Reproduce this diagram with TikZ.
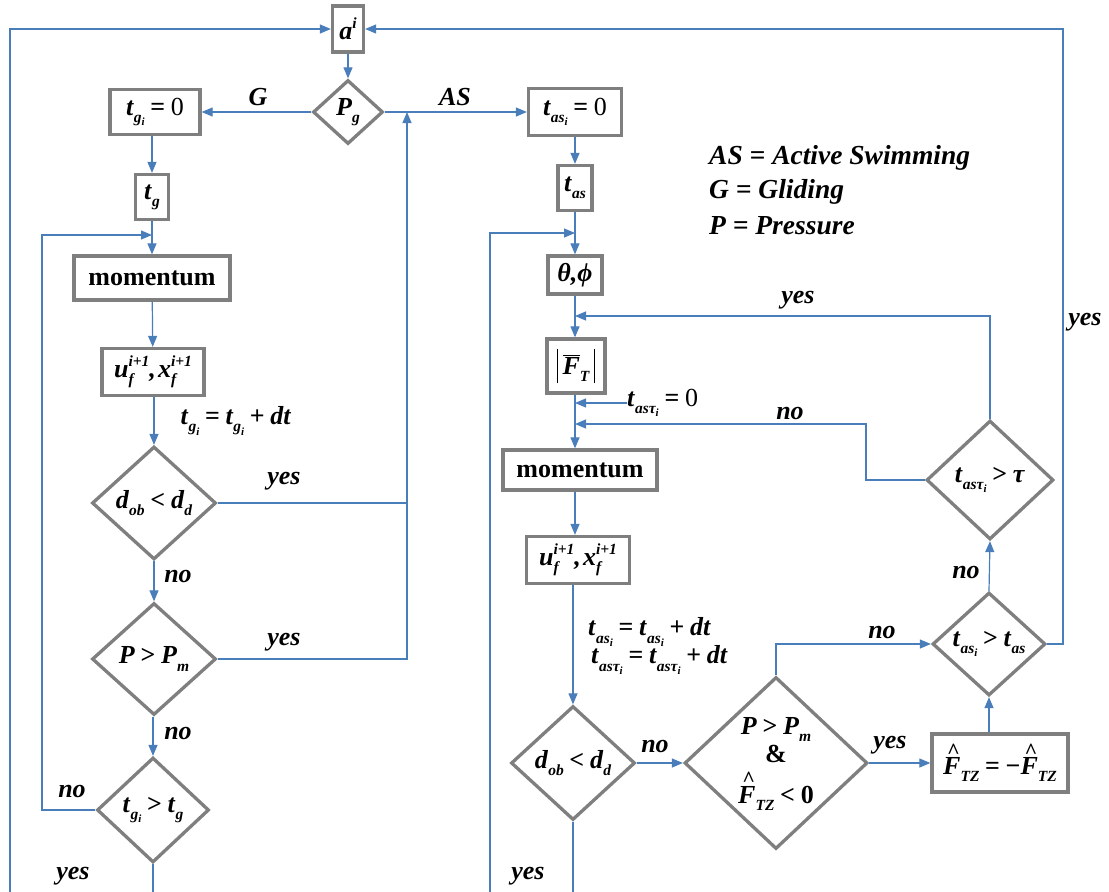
\documentclass[tikz,border=0pt]{standalone}
\usepackage{fontspec}
\setmainfont{Liberation Serif}
\usetikzlibrary{shapes.geometric,arrows.meta}
\definecolor{cbl}{HTML}{4A7EBB}
\definecolor{cgr}{HTML}{7F7F7F}
\newcommand\bi[1]{\textbf{\textit{#1}}}
\newcommand\ssz{\fontsize{15.5}{15.5}\selectfont\bfseries\itshape}
\newcommand\sssz{\fontsize{11}{11}\selectfont\bfseries\itshape}
\newcommand\sbs[1]{\raisebox{-0.6ex}{\ssz #1}}
\newcommand\sbsb[1]{\raisebox{-0.45ex}{\sssz #1}}
\newcommand\sps[1]{\raisebox{0.9ex}{\ssz #1}}
\newcommand\supsub[2]{\rlap{\raisebox{0.9ex}{\ssz #1}}\rlap{\raisebox{-0.6ex}{\ssz #2}}\hphantom{\ssz #1}}
\newcommand\Fhat{\bi{F}\llap{\raisebox{0.62em}{\fontsize{22}{22}\selectfont\bfseries\textasciicircum}\hspace{0.02em}}}
\newcommand\eqs{\textbf{\hspace{0.22em}=\hspace{0.22em}}}
\newcommand\rel[1]{\textbf{\hspace{0.22em}#1\hspace{0.22em}}}
\tikzset{
  box/.style={draw=cgr,line width=3.3pt,fill=white,inner sep=0pt,rectangle,font=\fontsize{26}{28}\selectfont},
  dia/.style={draw=cgr,line width=3.3pt,fill=white,inner sep=0pt,diamond,font=\fontsize{26}{28}\selectfont},
  lbl/.style={inner sep=0pt,font=\fontsize{26}{28}\selectfont\bfseries\itshape},
  eqn/.style={inner sep=0pt,font=\fontsize{26}{28}\selectfont},
  leg/.style={inner sep=0pt,anchor=west,font=\fontsize{27.5}{30}\selectfont\bfseries\itshape},
  con/.style={draw=cbl,line width=1.2pt},
  arr/.style={con,-{Triangle[length=11pt,width=9pt]}}
}
\begin{document}
\begin{tikzpicture}[x=1pt,y=-1pt]
\useasboundingbox (0,0) rectangle (1109,892);
% top
\node[box,minimum width=31,minimum height=46] (ai) at (348,29) {\makebox[0pt]{\bi{a}\sps{i}}};
\node[dia,minimum width=70,minimum height=64] (pg) at (348,112) {\makebox[0pt]{\bi{P}\sbs{g}}};
% left column
\node[box,minimum width=90,minimum height=45] (tgi0) at (155,112) {\makebox[0pt]{\bi{t}\sbs{g\sbsb{i}}\eqs 0}};
\node[box,minimum width=33,minimum height=45] (tg) at (152,197) {\makebox[0pt]{\bi{t}\sbs{g}}};
\node[box,minimum width=156,minimum height=44] (mom1) at (152,278) {\makebox[0pt]{\textbf{momentum}}};
\node[box,minimum width=102,minimum height=47] (uf1) at (153,372) {\makebox[0pt]{\bi{u}\supsub{i+1}{f}\bi{,\hspace{0.08em}x}\supsub{i+1}{f}}};
\node[dia,minimum width=124,minimum height=113] (d1) at (154,503) {\makebox[0pt]{\bi{d}\sbs{ob}\rel{<}\bi{d}\sbs{d}}};
\node[dia,minimum width=124,minimum height=112] (d2) at (154,659) {\makebox[0pt]{\bi{P}\rel{>}\bi{P}\sbs{m}}};
\node[dia,minimum width=112,minimum height=105] (d3) at (153,810) {\makebox[0pt]{\bi{t}\sbs{g\sbsb{i}}\rel{>}\bi{t}\sbs{g}}};
% right column
\node[box,minimum width=93,minimum height=47] (tasi0) at (575,112) {\makebox[0pt]{\bi{t}\sbs{as\sbsb{i}}\eqs 0}};
\node[box,minimum width=34,minimum height=45] (tas) at (575,188) {\makebox[0pt]{\bi{t}\sbs{as}}};
\node[box,minimum width=54,minimum height=38] (thph) at (575,275) {\makebox[0pt]{\bi{θ,ϕ}}};
\node[box,minimum width=58,minimum height=54] (FT) at (576,366) {\makebox[0pt]{\rule[-9pt]{1pt}{34pt}\,$\overline{\mbox{\bi{F}}}$\sbs{T}\,\rule[-9pt]{1pt}{34pt}}};
\node[box,minimum width=154,minimum height=40] (mom2) at (580,470) {\makebox[0pt]{\textbf{momentum}}};
\node[box,minimum width=103,minimum height=47] (uf2) at (578,560) {\makebox[0pt]{\bi{u}\supsub{i+1}{f}\bi{,\hspace{0.08em}x}\supsub{i+1}{f}}};
\node[dia,minimum width=124,minimum height=114] (d4) at (573,763) {\makebox[0pt]{\bi{d}\sbs{ob}\rel{<}\bi{d}\sbs{d}}};
\node[dia,minimum width=183,minimum height=172] (big) at (776,763) {\makebox[0pt]{\raisebox{4pt}{\begin{tabular}{@{}c@{}}\bi{P}\rel{>}\bi{P}\sbs{m}\\[0pt] \textbf{\&}\\[2pt] \Fhat\sbs{TZ}\rel{<}\textbf{0}\end{tabular}}}};
\node[box,minimum width=136,minimum height=58] (ftz) at (1000,763) {\makebox[0pt]{\raisebox{-3pt}{\Fhat\sbs{TZ}\eqs\textbf{−}\Fhat\sbs{TZ}}}};
\node[dia,minimum width=113,minimum height=103] (d5) at (989,644) {\makebox[0pt]{\bi{t}\sbs{as\sbsb{i}}\rel{>}\bi{t}\sbs{as}}};
\node[dia,minimum width=127,minimum height=119] (d6) at (990,480) {\makebox[0pt]{\bi{t}\sbs{asτ\sbsb{i}}\rel{>}\bi{τ}}};
% legend
\node[leg] (lg1) at (709,158) {AS = Active Swimming};
\node[leg] (lg2) at (709,192) {G = Gliding};
\node[leg] (lg3) at (709,226) {P = Pressure};
% labels
\node[lbl] (lG) at (258,97) {G};
\node[lbl] (lAS) at (455,97) {AS};
\node[eqn] (eq1) at (236,421) {\bi{t}\sbs{g\sbsb{i}}\eqs\bi{t}\sbs{g\sbsb{i}}\rel{+}\bi{dt}};
\node[lbl] (y1) at (284,481) {yes};
\node[lbl] (n1) at (178,576) {no};
\node[lbl] (y2) at (284,642) {yes};
\node[lbl] (n2) at (178,733) {no};
\node[lbl] (n3) at (72,791) {no};
\node[lbl] (y3) at (73,876) {yes};
\node[lbl] (y4) at (798,300) {yes};
\node[eqn,anchor=west] (tz) at (627,403) {\bi{t}\sbs{asτ\sbsb{i}}\eqs 0};
\node[lbl] (n4) at (790,413) {no};
\node[eqn,anchor=west] (eq2) at (588,632) {\bi{t}\sbs{as\sbsb{i}}\eqs\bi{t}\sbs{as\sbsb{i}}\rel{+}\bi{dt}};
\node[eqn,anchor=west] (eq3) at (591,660) {\bi{t}\sbs{asτ\sbsb{i}}\eqs\bi{t}\sbs{asτ\sbsb{i}}\rel{+}\bi{dt}};
\node[lbl] (n5) at (655,746) {no};
\node[lbl] (n6) at (882,632) {no};
\node[lbl] (y5) at (890,745) {yes};
\node[lbl] (n7) at (966,572) {no};
\node[lbl] (y6) at (1085,322) {yes};
\node[lbl] (y7) at (528,876) {yes};
% coordinates
\coordinate (Lb) at (10,892);
\coordinate (J1) at (407,112);
\coordinate (J2) at (407,503);
\coordinate (LL) at (42,235);
\coordinate (Bl) at (153,892);
\coordinate (RR) at (1063,29);
\coordinate (RL) at (490,892);
\coordinate (RLt) at (490,233);
\coordinate (Br) at (573,892);
\coordinate (N1) at (866,424);
\coordinate (Y1) at (990,316);
% connectors
\draw[arr] (Lb) |- (ai.west);
\draw[arr] (d5.east) -| (RR) -- (ai.east);
\draw[arr] (ai) -- (pg);
\draw[arr] (pg.west) -- (tgi0.east);
\draw[arr] (pg.east) -- (tasi0.west);
\draw[arr] (tgi0.south -| tg.north) -- (tg.north);
\draw[arr] (tg) -- (mom1);
\draw[arr] (mom1) -- (uf1);
\draw[arr] (uf1.south -| d1.north) -- (d1.north);
\draw[arr] (d1) -- (d2);
\draw[arr] (d2.south -| d3.north) -- (d3.north);
\draw[con] (d3.south) -- (Bl);
\draw[arr] (d1.east) -| (J1);
\draw[con] (d2.east) -| (J2);
\draw[arr] (d3.west) -| (LL) -- (LL -| mom1.north);
\draw[arr] (tasi0) -- (tas);
\draw[arr] (tas) -- (thph);
\draw[arr] (thph.south) -- (thph.south |- FT.north);
\draw[arr] (RL) -- (RLt) -- (RLt -| thph.north);
\draw[arr] (FT.south -| thph.south) -- (mom2.north -| thph.south);
\draw[arr] (tz.west) -- (tz.west -| thph.south);
\draw[arr] (d6.west) -| (N1) -- (N1 -| thph.south);
\draw[arr] (d6.north) -- (Y1) -- (Y1 -| thph.south);
\draw[arr] (mom2.south -| thph.south) -- (uf2.north -| thph.south);
\draw[arr] (uf2.south -| d4.north) -- (d4.north);
\draw[con] (d4.south) -- (Br);
\draw[arr] (d4.east) -- (big.west);
\draw[arr] (big.north) |- (d5.west);
\draw[arr] (big.east) -- (ftz.west);
\draw[arr] (d5.south |- ftz.north) -- (d5.south);
\draw[arr] (d5.north) -- (d6.south);
\end{tikzpicture}
\end{document}
